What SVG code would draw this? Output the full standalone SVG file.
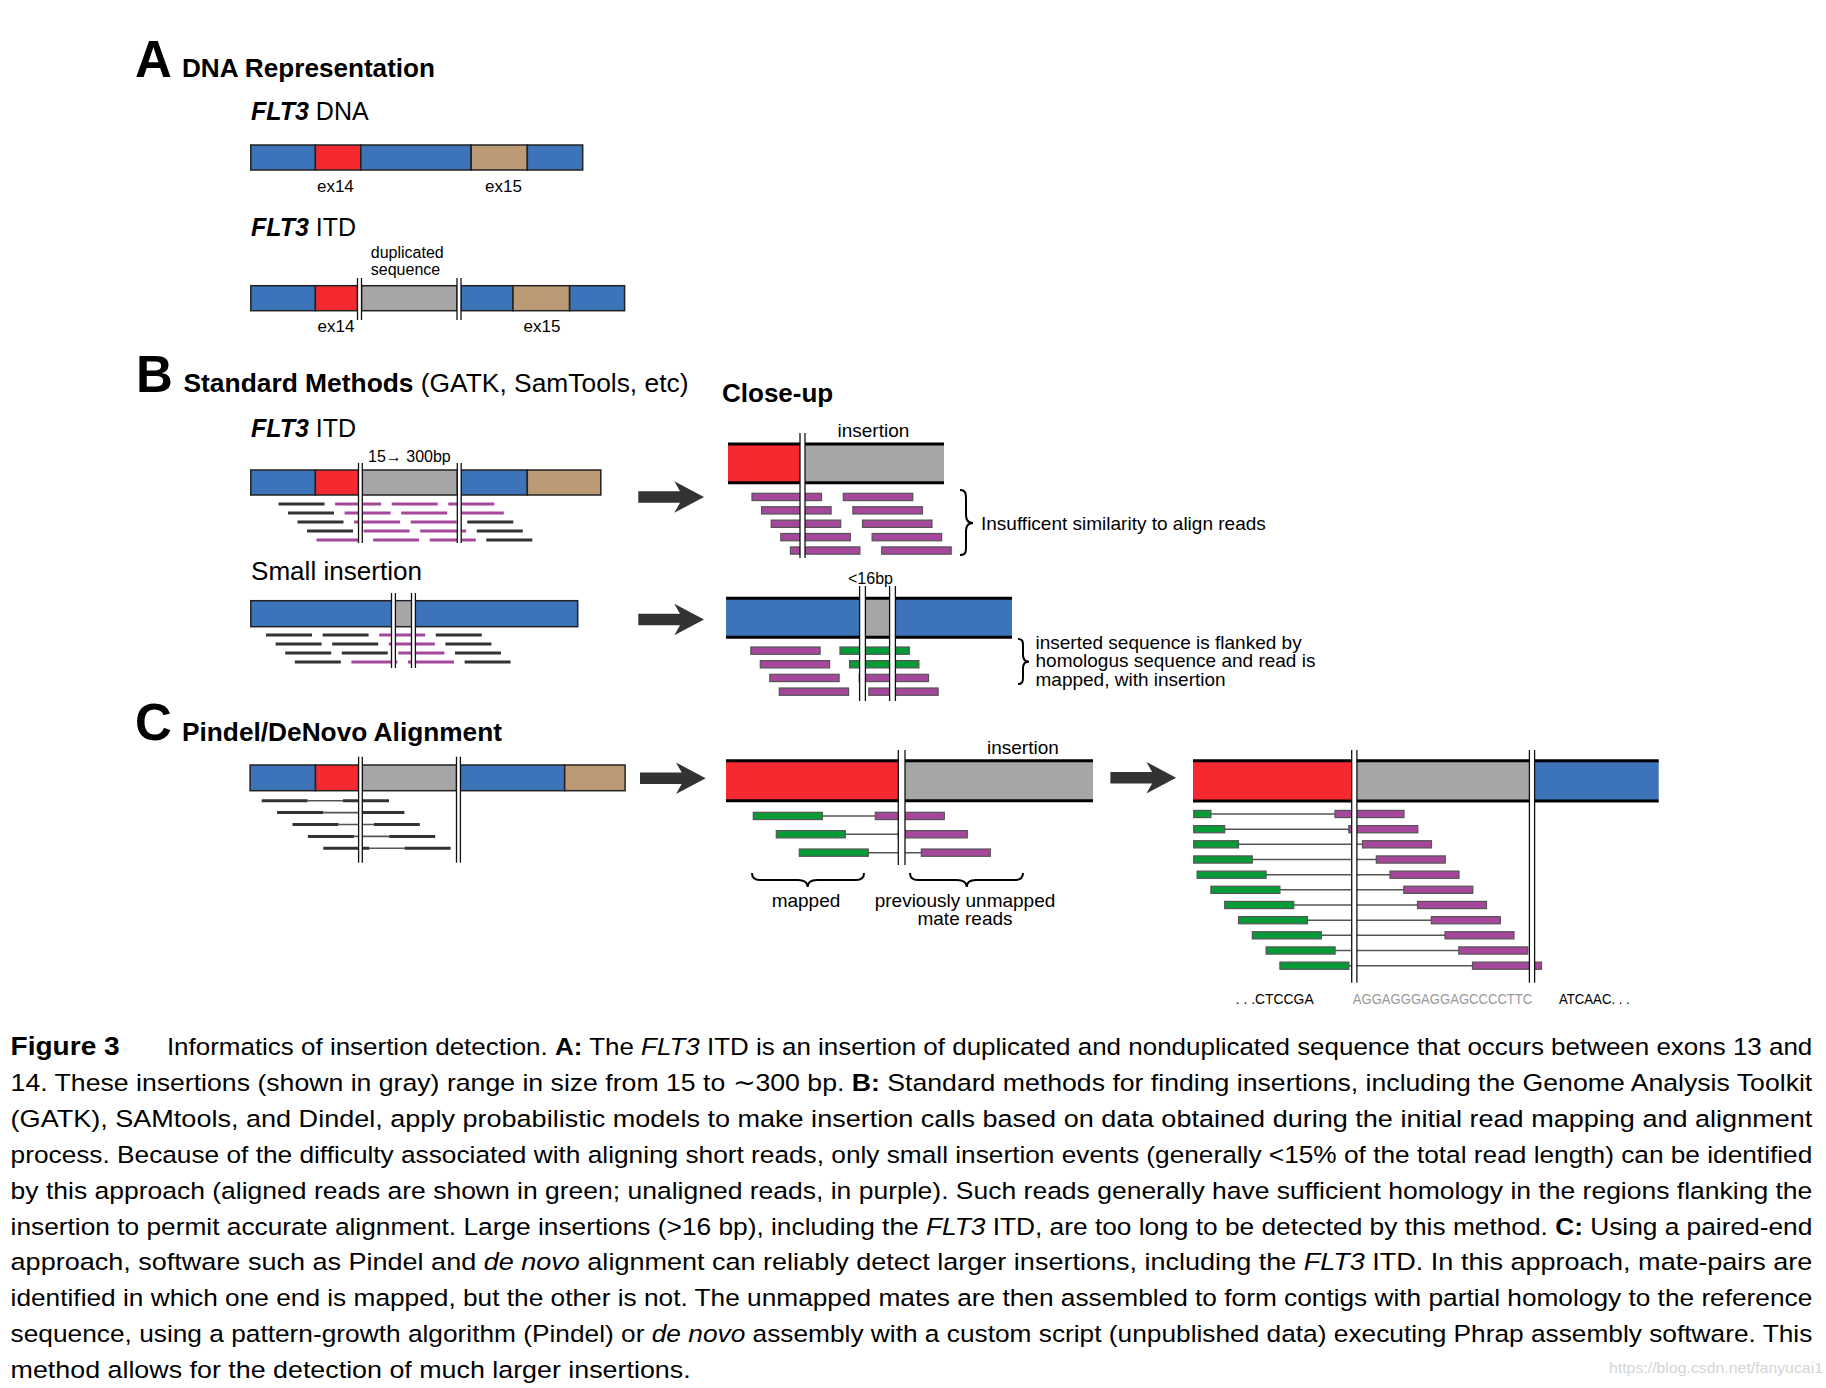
<svg xmlns="http://www.w3.org/2000/svg" xmlns:xlink="http://www.w3.org/1999/xlink" width="1826" height="1388" viewBox="0 0 1826 1388">
<style>
text{font-family:"Liberation Sans",Arial,sans-serif;fill:#000}
.big{font-size:51px;font-weight:bold}
.h{font-size:26px;font-weight:bold}
.lab{font-size:25px}
.bi{font-weight:bold;font-style:italic}
.sm{font-size:17px}
.s16{font-size:16px}
.s19{font-size:19px}
.seq{font-size:15.5px}
.cap{font-size:24.5px}
.b{font-weight:bold}
.i{font-style:italic}
.blue{fill:#3d73b9}
.red{fill:#f42a30}
.tan{fill:#bd9a76}
.gray{fill:#a6a6a6}
.seg{stroke:#222;stroke-width:1.5}
.dl{stroke:#111;stroke-width:1.3}
.rk{stroke:#333;stroke-width:3}
.rp{stroke:#a5479b;stroke-width:3}
.thin{stroke:#555;stroke-width:1.6}
.pr{fill:#a5479b;stroke:#555;stroke-width:1.2}
.gr{fill:#079b37;stroke:#555;stroke-width:1.2}
.edge{stroke:#000;stroke-width:3}
.brace{fill:none;stroke:#000;stroke-width:2}
.arrow{fill:#333}
</style>
<defs>
<path id="arr" d="M0,-5.8 L41.7,-5.8 L36,-15.8 L65.7,0 L36,15.8 L41.7,5.8 L0,5.8 Z"/>
</defs>

<g id="panelA">
<text class="big" x="135" y="77">A</text>
<text class="h" x="182" y="77" textLength="253" lengthAdjust="spacingAndGlyphs">DNA Representation</text>
<g id="flt3-dna">
<text class="lab" x="251" y="120"><tspan class="bi">FLT3</tspan> DNA</text>
<rect class="blue seg" x="250.8" y="145" width="64.6" height="25"/>
<rect class="red seg" x="315.4" y="145" width="45.4" height="25"/>
<rect class="blue seg" x="360.8" y="145" width="110.4" height="25"/>
<rect class="tan seg" x="471.2" y="145" width="56.1" height="25"/>
<rect class="blue seg" x="527.3" y="145" width="55.4" height="25"/>
<text class="sm" x="335.4" y="192" text-anchor="middle">ex14</text>
<text class="sm" x="503.5" y="192" text-anchor="middle">ex15</text>
</g>
<g id="flt3-itd-a">
<text class="lab" x="251" y="236"><tspan class="bi">FLT3</tspan> ITD</text>
<text class="s16" x="370.8" y="257.5">duplicated</text>
<text class="s16" x="370.8" y="274.5">sequence</text>
<rect class="blue seg" x="250.8" y="285.7" width="64.6" height="25"/>
<rect class="red seg" x="315.4" y="285.7" width="42.1" height="25"/>
<rect class="gray seg" x="361.5" y="285.7" width="95.5" height="25"/>
<rect class="blue seg" x="461" y="285.7" width="52" height="25"/>
<rect class="tan seg" x="513" y="285.7" width="56.6" height="25"/>
<rect class="blue seg" x="569.6" y="285.7" width="55" height="25"/>
<rect x="357.5" y="278" width="4" height="42" fill="#fff"/>
<line class="dl" x1="357.5" y1="278" x2="357.5" y2="320"/><line class="dl" x1="361.5" y1="278" x2="361.5" y2="320"/>
<rect x="457" y="278" width="4" height="42" fill="#fff"/>
<line class="dl" x1="457" y1="278" x2="457" y2="320"/><line class="dl" x1="461" y1="278" x2="461" y2="320"/>
<text class="sm" x="336" y="332" text-anchor="middle">ex14</text>
<text class="sm" x="542" y="332" text-anchor="middle">ex15</text>
</g>
</g>

<g id="panelB">
<text class="big" x="136" y="392">B</text>
<text x="183.5" y="392" style="font-size:26px" textLength="505" lengthAdjust="spacingAndGlyphs"><tspan class="b">Standard Methods</tspan> (GATK, SamTools, etc)</text>
<g id="b-itd">
<text class="lab" x="251" y="437"><tspan class="bi">FLT3</tspan> ITD</text>
<text class="s16" x="368" y="462">15→ 300bp</text>
<rect class="blue seg" x="250.8" y="470" width="64.6" height="25"/>
<rect class="red seg" x="315.4" y="470" width="43.1" height="25"/>
<rect class="gray seg" x="362.3" y="470" width="95" height="25"/>
<rect class="blue seg" x="461.2" y="470" width="66.1" height="25"/>
<rect class="tan seg" x="527.3" y="470" width="73.5" height="25"/>
<g id="b-itd-reads">
<line class="rk" x1="278.5" y1="504" x2="324.5" y2="504"/><line class="rp" x1="335.1" y1="504" x2="381.1" y2="504"/><line class="rp" x1="391.7" y1="504" x2="437.7" y2="504"/><line class="rp" x1="448.3" y1="504" x2="494.3" y2="504"/>
<line class="rk" x1="288" y1="513" x2="334" y2="513"/><line class="rp" x1="344.6" y1="513" x2="390.6" y2="513"/><line class="rp" x1="401.2" y1="513" x2="447.2" y2="513"/><line class="rp" x1="457.8" y1="513" x2="503.8" y2="513"/>
<line class="rk" x1="297.5" y1="522" x2="343.5" y2="522"/><line class="rp" x1="354.1" y1="522" x2="400.1" y2="522"/><line class="rp" x1="410.7" y1="522" x2="456.7" y2="522"/><line class="rk" x1="467.3" y1="522" x2="513.3" y2="522"/>
<line class="rk" x1="307" y1="531" x2="353" y2="531"/><line class="rp" x1="363.6" y1="531" x2="409.6" y2="531"/><line class="rp" x1="420.2" y1="531" x2="466.2" y2="531"/><line class="rk" x1="476.8" y1="531" x2="522.8" y2="531"/>
<line class="rp" x1="316.5" y1="540" x2="362.5" y2="540"/><line class="rp" x1="373.1" y1="540" x2="419.1" y2="540"/><line class="rp" x1="429.7" y1="540" x2="475.7" y2="540"/><line class="rk" x1="486.3" y1="540" x2="532.3" y2="540"/>
</g>
<rect x="358.5" y="463" width="3.8" height="80" fill="#fff"/>
<line class="dl" x1="358.5" y1="463" x2="358.5" y2="543"/><line class="dl" x1="362.3" y1="463" x2="362.3" y2="543"/>
<rect x="457.3" y="463" width="3.9" height="80" fill="#fff"/>
<line class="dl" x1="457.3" y1="463" x2="457.3" y2="543"/><line class="dl" x1="461.2" y1="463" x2="461.2" y2="543"/>
</g>
<g id="b-small">
<text x="251" y="580" style="font-size:26px" textLength="171" lengthAdjust="spacingAndGlyphs">Small insertion</text>
<rect class="blue seg" x="250.8" y="600.7" width="326.9" height="26"/>
<rect class="gray" x="395.4" y="601.5" width="16.1" height="24.4"/>
<g id="b-small-reads">
<line class="rk" x1="266" y1="635" x2="312" y2="635"/><line class="rk" x1="322.6" y1="635" x2="368.6" y2="635"/><line class="rp" x1="379.2" y1="635" x2="425.2" y2="635"/><line class="rk" x1="435.8" y1="635" x2="481.8" y2="635"/>
<line class="rk" x1="275.6" y1="644" x2="321.6" y2="644"/><line class="rk" x1="332.2" y1="644" x2="378.2" y2="644"/><line class="rp" x1="388.8" y1="644" x2="434.8" y2="644"/><line class="rk" x1="445.4" y1="644" x2="491.4" y2="644"/>
<line class="rk" x1="285.2" y1="653" x2="331.2" y2="653"/><line class="rk" x1="341.8" y1="653" x2="387.8" y2="653"/><line class="rp" x1="398.4" y1="653" x2="444.4" y2="653"/><line class="rk" x1="455" y1="653" x2="501" y2="653"/>
<line class="rk" x1="294.8" y1="662" x2="340.8" y2="662"/><line class="rp" x1="351.4" y1="662" x2="397.4" y2="662"/><line class="rp" x1="408" y1="662" x2="454" y2="662"/><line class="rk" x1="464.6" y1="662" x2="510.6" y2="662"/>
</g>
<rect x="391.5" y="593" width="3.9" height="75" fill="#fff"/>
<line class="dl" x1="391.5" y1="593" x2="391.5" y2="668"/><line class="dl" x1="395.4" y1="593" x2="395.4" y2="668"/>
<rect x="411.5" y="593" width="3.9" height="75" fill="#fff"/>
<line class="dl" x1="411.5" y1="593" x2="411.5" y2="668"/><line class="dl" x1="415.4" y1="593" x2="415.4" y2="668"/>
</g>
</g>

<g id="closeup">
<text class="h" x="722" y="402">Close-up</text>
<g id="cu1">
<text class="s19" x="837.5" y="437">insertion</text>
<rect class="red" x="728" y="444" width="73" height="38.7"/>
<rect class="gray" x="805" y="444" width="139" height="38.7"/>
<line class="edge" x1="728" y1="444" x2="944" y2="444"/><line class="edge" x1="728" y1="482.7" x2="944" y2="482.7"/>
<rect class="pr" x="752" y="493.3" width="69.5" height="7.3"/><rect class="pr" x="843.3" y="493.3" width="69.5" height="7.3"/>
<rect class="pr" x="761.6" y="506.7" width="69.5" height="7.3"/><rect class="pr" x="852.9" y="506.7" width="69.5" height="7.3"/>
<rect class="pr" x="771.2" y="520.1" width="69.5" height="7.3"/><rect class="pr" x="862.5" y="520.1" width="69.5" height="7.3"/>
<rect class="pr" x="780.8" y="533.5" width="69.5" height="7.3"/><rect class="pr" x="872.1" y="533.5" width="69.5" height="7.3"/>
<rect class="pr" x="790.4" y="546.9" width="69.5" height="7.3"/><rect class="pr" x="881.7" y="546.9" width="69.5" height="7.3"/>
<rect x="800" y="433" width="5" height="125" fill="#fff"/>
<line class="dl" x1="800" y1="433" x2="800" y2="558"/><line class="dl" x1="805" y1="433" x2="805" y2="558"/>
<path class="brace" d="M960,490 C966,490 966,494 966,500 L966,515 C966,520 968,523 973,523 C968,523 966,526 966,531 L966,546 C966,552 966,555 960,555"/>
<text class="s19" x="981" y="529.5">Insufficent similarity to align reads</text>
</g>
<g id="cu2">
<text class="s16" x="848" y="583.5">&lt;16bp</text>
<rect class="blue" x="726" y="598.3" width="286" height="39"/>
<rect class="gray" x="865.4" y="598.3" width="24.2" height="39"/>
<line class="edge" x1="726" y1="598.3" x2="1012" y2="598.3"/><line class="edge" x1="726" y1="637.3" x2="1012" y2="637.3"/>
<rect class="pr" x="750.8" y="647" width="69.3" height="7.3"/><rect class="gr" x="840" y="647" width="69.3" height="7.3"/>
<rect class="pr" x="760.3" y="660.6" width="69.3" height="7.3"/><rect class="gr" x="849.6" y="660.6" width="69.3" height="7.3"/>
<rect class="pr" x="769.8" y="674.3" width="69.3" height="7.3"/><rect class="pr" x="859.2" y="674.3" width="69.3" height="7.3"/>
<rect class="pr" x="779.3" y="688" width="69.3" height="7.3"/><rect class="pr" x="868.8" y="688" width="69.3" height="7.3"/>
<rect x="859.6" y="586" width="5.8" height="115" fill="#fff"/>
<line class="dl" x1="859.6" y1="586" x2="859.6" y2="701"/><line class="dl" x1="865.4" y1="586" x2="865.4" y2="701"/>
<rect x="889.6" y="586" width="5.8" height="115" fill="#fff"/>
<line class="dl" x1="889.6" y1="586" x2="889.6" y2="701"/><line class="dl" x1="895.4" y1="586" x2="895.4" y2="701"/>
<path class="brace" d="M1018,639 C1023,639 1023,642 1023,646 L1023,655 C1023,659 1025,661.7 1029,661.7 C1025,661.7 1023,664 1023,668 L1023,677 C1023,681 1023,684 1018,684"/>
<text class="s19" x="1035.5" y="648.5">inserted sequence is flanked by</text>
<text class="s19" x="1035.5" y="667.3">homologus sequence and read is</text>
<text class="s19" x="1035.5" y="686">mapped, with insertion</text>
</g>
</g>

<g id="panelC">
<text class="big" x="135" y="740">C</text>
<text class="h" x="182" y="740.5" textLength="320" lengthAdjust="spacingAndGlyphs">Pindel/DeNovo Alignment</text>
<g id="c-left">
<rect class="blue seg" x="250.1" y="765" width="65.4" height="25.7"/>
<rect class="red seg" x="315.5" y="765" width="43.1" height="25.7"/>
<rect class="gray seg" x="362.3" y="765" width="94.2" height="25.7"/>
<rect class="blue seg" x="460.4" y="765" width="104.3" height="25.7"/>
<rect class="tan seg" x="564.7" y="765" width="60.4" height="25.7"/>
<line class="thin" x1="307.7" y1="800.7" x2="343" y2="800.7"/><line class="rk" x1="261.7" y1="800.7" x2="307.7" y2="800.7"/><line class="rk" x1="343" y1="800.7" x2="389" y2="800.7"/>
<line class="thin" x1="323.1" y1="812.6" x2="358.4" y2="812.6"/><line class="rk" x1="277.1" y1="812.6" x2="323.1" y2="812.6"/><line class="rk" x1="358.4" y1="812.6" x2="404.4" y2="812.6"/>
<line class="thin" x1="338.5" y1="824.5" x2="373.8" y2="824.5"/><line class="rk" x1="292.5" y1="824.5" x2="338.5" y2="824.5"/><line class="rk" x1="373.8" y1="824.5" x2="419.8" y2="824.5"/>
<line class="thin" x1="353.9" y1="836.4" x2="389.2" y2="836.4"/><line class="rk" x1="307.9" y1="836.4" x2="353.9" y2="836.4"/><line class="rk" x1="389.2" y1="836.4" x2="435.2" y2="836.4"/>
<line class="thin" x1="369.3" y1="848.3" x2="404.6" y2="848.3"/><line class="rk" x1="323.3" y1="848.3" x2="369.3" y2="848.3"/><line class="rk" x1="404.6" y1="848.3" x2="450.6" y2="848.3"/>
<rect x="358.6" y="756.7" width="3.7" height="106" fill="#fff"/>
<line class="dl" x1="358.6" y1="756.7" x2="358.6" y2="862.7"/><line class="dl" x1="362.3" y1="756.7" x2="362.3" y2="862.7"/>
<rect x="456.5" y="756.7" width="3.9" height="106" fill="#fff"/>
<line class="dl" x1="456.5" y1="756.7" x2="456.5" y2="862.7"/><line class="dl" x1="460.4" y1="756.7" x2="460.4" y2="862.7"/>
</g>
<g id="c-mid">
<text class="s19" x="987" y="754">insertion</text>
<rect class="red" x="726" y="760.7" width="172.3" height="40"/>
<rect class="gray" x="905" y="760.7" width="188" height="40"/>
<line class="edge" x1="726" y1="760.7" x2="1093" y2="760.7"/><line class="edge" x1="726" y1="800.7" x2="1093" y2="800.7"/>
<line class="thin" x1="822.3" y1="816" x2="875.3" y2="816"/>
<rect class="gr" x="753.3" y="812.3" width="69" height="7.3"/><rect class="pr" x="875.3" y="812.3" width="69" height="7.3"/>
<line class="thin" x1="845.3" y1="834.3" x2="898.3" y2="834.3"/>
<rect class="gr" x="776.3" y="830.6" width="69" height="7.3"/><rect class="pr" x="898.3" y="830.6" width="69" height="7.3"/>
<line class="thin" x1="868.3" y1="852.7" x2="921.3" y2="852.7"/>
<rect class="gr" x="799.3" y="849" width="69" height="7.3"/><rect class="pr" x="921.3" y="849" width="69" height="7.3"/>
<rect x="898.3" y="750" width="6.7" height="115" fill="#fff"/>
<line class="dl" x1="898.3" y1="750" x2="898.3" y2="865"/><line class="dl" x1="905" y1="750" x2="905" y2="865"/>
<path class="brace" d="M752,873 C752,878 755,880 760,880 L798,880 C803,880 807.7,882 807.7,887 C807.7,882 812,880 817,880 L856,880 C861,880 864,878 864,873"/>
<path class="brace" d="M910,873 C910,878 913,880 918,880 L957,880 C962,880 966.7,882 966.7,887 C966.7,882 971,880 976,880 L1015,880 C1020,880 1023,878 1023,873"/>
<text class="s19" x="806" y="906.5" text-anchor="middle">mapped</text>
<text class="s19" x="965" y="906.5" text-anchor="middle">previously unmapped</text>
<text class="s19" x="965" y="925" text-anchor="middle">mate reads</text>
</g>
<g id="c-right">
<rect class="red" x="1193" y="760.7" width="158.7" height="40.3"/>
<rect class="gray" x="1356.9" y="760.7" width="172.5" height="40.3"/>
<rect class="blue" x="1534.6" y="760.7" width="124.1" height="40.3"/>
<line class="edge" x1="1193" y1="760.7" x2="1658.7" y2="760.7"/><line class="edge" x1="1193" y1="801" x2="1658.7" y2="801"/>
<g id="c-right-reads">
<line class="thin" x1="1210.9" y1="814" x2="1335" y2="814"/><rect class="gr" x="1193.7" y="810.4" width="17.2" height="7.2"/><rect class="pr" x="1335" y="810.4" width="69" height="7.2"/>
<line class="thin" x1="1224.7" y1="829.2" x2="1348.8" y2="829.2"/><rect class="gr" x="1193.7" y="825.6" width="31" height="7.2"/><rect class="pr" x="1348.8" y="825.6" width="69" height="7.2"/>
<line class="thin" x1="1238.5" y1="844.3" x2="1362.5" y2="844.3"/><rect class="gr" x="1193.7" y="840.7" width="44.8" height="7.2"/><rect class="pr" x="1362.5" y="840.7" width="69" height="7.2"/>
<line class="thin" x1="1252.3" y1="859.5" x2="1376.3" y2="859.5"/><rect class="gr" x="1193.7" y="855.9" width="58.6" height="7.2"/><rect class="pr" x="1376.3" y="855.9" width="69" height="7.2"/>
<line class="thin" x1="1266.1" y1="874.7" x2="1390" y2="874.7"/><rect class="gr" x="1197.1" y="871.1" width="69" height="7.2"/><rect class="pr" x="1390" y="871.1" width="69" height="7.2"/>
<line class="thin" x1="1279.9" y1="889.8" x2="1403.8" y2="889.8"/><rect class="gr" x="1210.9" y="886.2" width="69" height="7.2"/><rect class="pr" x="1403.8" y="886.2" width="69" height="7.2"/>
<line class="thin" x1="1293.7" y1="905" x2="1417.5" y2="905"/><rect class="gr" x="1224.7" y="901.4" width="69" height="7.2"/><rect class="pr" x="1417.5" y="901.4" width="69" height="7.2"/>
<line class="thin" x1="1307.5" y1="920.2" x2="1431.3" y2="920.2"/><rect class="gr" x="1238.5" y="916.6" width="69" height="7.2"/><rect class="pr" x="1431.3" y="916.6" width="69" height="7.2"/>
<line class="thin" x1="1321.3" y1="935.3" x2="1445" y2="935.3"/><rect class="gr" x="1252.3" y="931.7" width="69" height="7.2"/><rect class="pr" x="1445" y="931.7" width="69" height="7.2"/>
<line class="thin" x1="1335.1" y1="950.5" x2="1458.8" y2="950.5"/><rect class="gr" x="1266.1" y="946.9" width="69" height="7.2"/><rect class="pr" x="1458.8" y="946.9" width="69" height="7.2"/>
<line class="thin" x1="1348.9" y1="965.7" x2="1472.5" y2="965.7"/><rect class="gr" x="1279.9" y="962.1" width="69" height="7.2"/><rect class="pr" x="1472.5" y="962.1" width="69" height="7.2"/>
</g>
<rect x="1351.7" y="750" width="5.2" height="232.7" fill="#fff"/>
<line class="dl" x1="1351.7" y1="750" x2="1351.7" y2="982.7"/><line class="dl" x1="1356.9" y1="750" x2="1356.9" y2="982.7"/>
<rect x="1529.4" y="750" width="5.2" height="232.7" fill="#fff"/>
<line class="dl" x1="1529.4" y1="750" x2="1529.4" y2="982.7"/><line class="dl" x1="1534.6" y1="750" x2="1534.6" y2="982.7"/>
<text class="seq" x="1235.7" y="1004.3" textLength="78" lengthAdjust="spacingAndGlyphs">. . .CTCCGA</text>
<text class="seq" x="1352.8" y="1004.3" textLength="179.5" lengthAdjust="spacingAndGlyphs" style="fill:#999">AGGAGGGAGGAGCCCCTTC</text>
<text class="seq" x="1559" y="1004.3" textLength="70.7" lengthAdjust="spacingAndGlyphs">ATCAAC. . .</text>
</g>
</g>

<g id="connectors">
<use xlink:href="#arr" class="arrow" transform="translate(638.3,497)"/>
<use xlink:href="#arr" class="arrow" transform="translate(638.3,619.5)"/>
<use xlink:href="#arr" class="arrow" transform="translate(640,778.3)"/>
<use xlink:href="#arr" class="arrow" transform="translate(1110.4,777.7)"/>
</g>

<g id="caption">
<text x="10.6" y="1055" style="font-size:26px;font-weight:bold" textLength="109" lengthAdjust="spacingAndGlyphs">Figure 3</text>
<text class="cap" x="166.9" y="1055" textLength="1645.4" lengthAdjust="spacingAndGlyphs">Informatics of insertion detection. <tspan class="b">A:</tspan> The <tspan class="i">FLT3</tspan> ITD is an insertion of duplicated and nonduplicated sequence that occurs between exons 13 and</text>
<text class="cap" x="10.6" y="1090.9" textLength="1801.7" lengthAdjust="spacingAndGlyphs">14. These insertions (shown in gray) range in size from 15 to ∼300 bp. <tspan class="b">B:</tspan> Standard methods for finding insertions, including the Genome Analysis Toolkit</text>
<text class="cap" x="10.6" y="1126.8" textLength="1801.7" lengthAdjust="spacingAndGlyphs">(GATK), SAMtools, and Dindel, apply probabilistic models to make insertion calls based on data obtained during the initial read mapping and alignment</text>
<text class="cap" x="10.6" y="1162.7" textLength="1801.7" lengthAdjust="spacingAndGlyphs">process. Because of the difficulty associated with aligning short reads, only small insertion events (generally &lt;15% of the total read length) can be identified</text>
<text class="cap" x="10.6" y="1198.6" textLength="1801.7" lengthAdjust="spacingAndGlyphs">by this approach (aligned reads are shown in green; unaligned reads, in purple). Such reads generally have sufficient homology in the regions flanking the</text>
<text class="cap" x="10.6" y="1234.5" textLength="1801.7" lengthAdjust="spacingAndGlyphs">insertion to permit accurate alignment. Large insertions (&gt;16 bp), including the <tspan class="i">FLT3</tspan> ITD, are too long to be detected by this method. <tspan class="b">C:</tspan> Using a paired-end</text>
<text class="cap" x="10.6" y="1270.4" textLength="1801.7" lengthAdjust="spacingAndGlyphs">approach, software such as Pindel and <tspan class="i">de novo</tspan> alignment can reliably detect larger insertions, including the <tspan class="i">FLT3</tspan> ITD. In this approach, mate-pairs are</text>
<text class="cap" x="10.6" y="1306.3" textLength="1801.7" lengthAdjust="spacingAndGlyphs">identified in which one end is mapped, but the other is not. The unmapped mates are then assembled to form contigs with partial homology to the reference</text>
<text class="cap" x="10.6" y="1342.2" textLength="1801.7" lengthAdjust="spacingAndGlyphs">sequence, using a pattern-growth algorithm (Pindel) or <tspan class="i">de novo</tspan> assembly with a custom script (unpublished data) executing Phrap assembly software. This</text>
<text class="cap" x="10.6" y="1378" textLength="680" lengthAdjust="spacingAndGlyphs">method allows for the detection of much larger insertions.</text>
<text x="1609" y="1373" style="font-size:15px;fill:#d4d4d4" textLength="214" lengthAdjust="spacingAndGlyphs">https://blog.csdn.net/fanyucai1</text>
</g>
</svg>
